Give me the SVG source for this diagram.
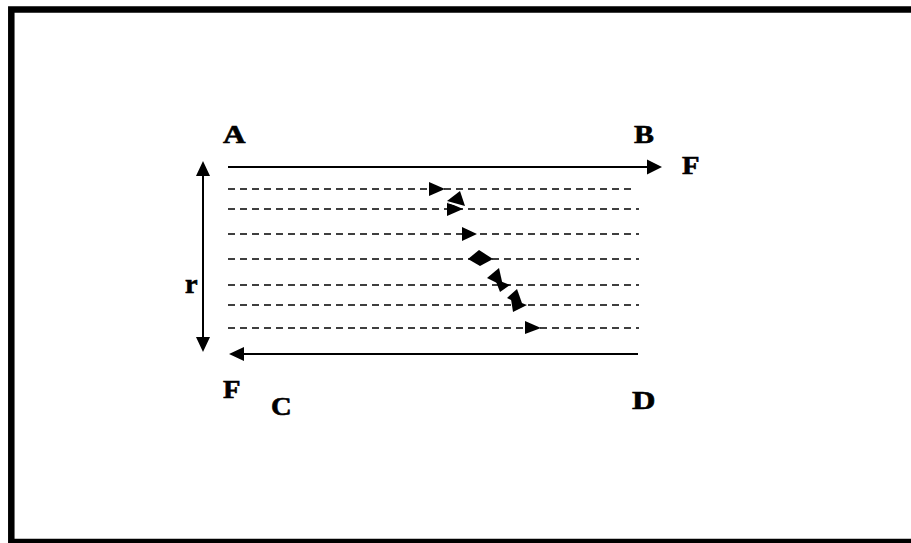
<svg xmlns="http://www.w3.org/2000/svg" width="911" height="543" viewBox="0 0 911 543">
<defs>
<style>
.lbl{font-family:"Liberation Serif","Times New Roman",serif;font-weight:bold;font-size:26px;fill:#000;stroke:#000;stroke-width:0.6}
.solid{stroke:#000;stroke-width:2;fill:none}
.dash{stroke:#000;stroke-width:1.7;fill:none;stroke-dasharray:7 5}
.head{fill:#000;stroke:none}
</style>
</defs>
<rect x="0" y="0" width="911" height="543" fill="#fff"/>
<g id="frame">
<rect x="11.3" y="9.5" width="930" height="532.5" fill="none" stroke="#000" stroke-width="6.5"/>
</g>
<g id="labels">
<g id="label-A"><text class="lbl" transform="translate(223,143) scale(1.2,1)">A</text></g>
<g id="label-B"><text class="lbl" transform="translate(634,143) scale(1.15,1)">B</text></g>
<g id="label-F-right"><text class="lbl" transform="translate(682,174) scale(1.1,1)">F</text></g>
<g id="label-r"><text class="lbl" style="font-size:27px" transform="translate(185,293) scale(1.05,1)">r</text></g>
<g id="label-F-left"><text class="lbl" transform="translate(223,398) scale(1.1,1)">F</text></g>
<g id="label-C"><text class="lbl" transform="translate(271,415) scale(1.1,1)">C</text></g>
<g id="label-D"><text class="lbl" transform="translate(632,409) scale(1.25,1)">D</text></g>
</g>
<g id="connectors">
<line class="solid" x1="228" y1="167" x2="650" y2="167"/>
<polygon class="head" points="647,159.5 662,167 647,174.5"/>
<line class="solid" x1="240" y1="354" x2="638" y2="354"/>
<polygon class="head" points="244,347 229,354 244,361"/>
<line class="solid" x1="203" y1="172" x2="203" y2="341"/>
<polygon class="head" points="196,176 203,161 210,176"/>
<polygon class="head" points="196,337 203,352 210,337"/>
<line class="dash" x1="228" y1="189" x2="635" y2="189"/>
<line class="dash" x1="228" y1="209" x2="639" y2="209"/>
<line class="dash" x1="228" y1="234" x2="639" y2="234"/>
<line class="dash" x1="228" y1="259" x2="639" y2="259"/>
<line class="dash" x1="228" y1="285" x2="639" y2="285"/>
<line class="dash" x1="228" y1="305" x2="639" y2="305"/>
<line class="dash" x1="228" y1="328" x2="639" y2="328"/>
<polygon class="head" points="429,182 445,189 429,196"/>
<polygon class="head" points="447,201 460,191 465,206"/>
<polygon class="head" points="447,202 463,209 447,216"/>
<line x1="447" y1="202.5" x2="465" y2="207.5" stroke="#fff" stroke-width="1"/>
<polygon class="head" points="462,227 477,234 462,241"/>
<polygon class="head" points="468,259 479,250 493,259 480,266"/>
<polygon class="head" points="487,278 499,268 503,286"/>
<polygon class="head" points="495,279 510,285 500,292"/>
<polygon class="head" points="507,298 517,289 523,306"/>
<polygon class="head" points="511,299 527,305 513,312"/>
<polygon class="head" points="525,321 541,328 525,334"/>
</g>
</svg>
